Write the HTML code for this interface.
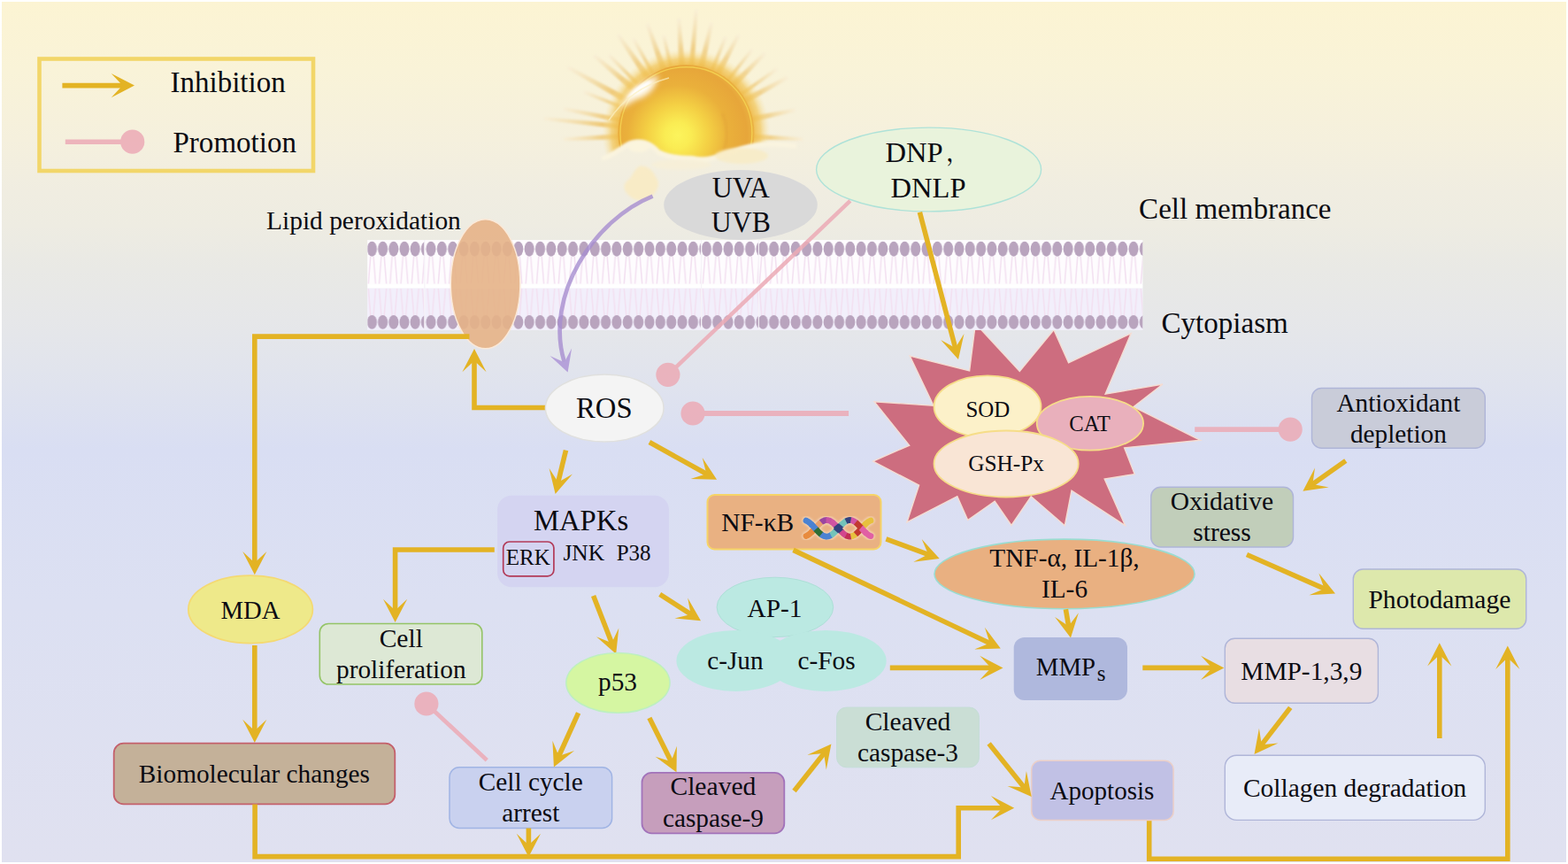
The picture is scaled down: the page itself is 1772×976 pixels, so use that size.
<!DOCTYPE html>
<html lang="en"><head><meta charset="utf-8"><title>UV photodamage signalling pathway</title>
<style>
html,body{margin:0;padding:0;background:#fff;}
body{width:1772px;height:976px;overflow:hidden;}
svg{display:block;position:absolute;left:0;top:0;}
svg text{font-family:"Liberation Serif", "Noto Serif CJK SC", serif;fill:#0b0b12;}
</style></head><body>
<svg width="1772" height="976" viewBox="0 0 1772 976">
<defs>
<linearGradient id="bg" x1="0" y1="0" x2="0" y2="1">
<stop offset="0" stop-color="#FCF4D3"/>
<stop offset="0.08" stop-color="#F9F3D8"/>
<stop offset="0.16" stop-color="#F5F0DD"/>
<stop offset="0.22" stop-color="#F0EDE1"/>
<stop offset="0.26" stop-color="#EEECE2"/>
<stop offset="0.31" stop-color="#E9E9E5"/>
<stop offset="0.37" stop-color="#E6E7E9"/>
<stop offset="0.43" stop-color="#E1E4ED"/>
<stop offset="0.52" stop-color="#D9DEF3"/>
<stop offset="0.70" stop-color="#DCE0F2"/>
<stop offset="1" stop-color="#E0E1F0"/>
</linearGradient>
<radialGradient id="sun" gradientUnits="userSpaceOnUse" cx="766" cy="153" r="92">
<stop offset="0" stop-color="#FCF45C"/>
<stop offset="0.16" stop-color="#FAEC53"/>
<stop offset="0.38" stop-color="#F4D044"/>
<stop offset="0.62" stop-color="#EAB03B"/>
<stop offset="0.85" stop-color="#E7A63A"/>
<stop offset="1" stop-color="#EDBB48"/>
</radialGradient>
<radialGradient id="glow" gradientUnits="userSpaceOnUse" cx="775.4" cy="150.3" r="100">
<stop offset="0.74" stop-color="#EEB845" stop-opacity="1"/>
<stop offset="0.84" stop-color="#F2CA66" stop-opacity="0.8"/>
<stop offset="0.95" stop-color="#F8E7B0" stop-opacity="0"/>
</radialGradient>
<filter id="b1" x="-20%" y="-20%" width="140%" height="140%"><feGaussianBlur stdDeviation="0.9"/></filter>
<filter id="b2" x="-20%" y="-20%" width="140%" height="140%"><feGaussianBlur stdDeviation="1.6"/></filter>
<filter id="b4" x="-30%" y="-30%" width="160%" height="160%"><feGaussianBlur stdDeviation="3"/></filter>
<pattern id="mp0" x="414.30" y="0" width="12.2" height="976" patternUnits="userSpaceOnUse"><rect x="0" y="271" width="12.2" height="51" fill="#FEFCFE"/><rect x="0" y="325.3" width="12.2" height="48" fill="#F2EFFB"/><rect x="0" y="321.1" width="12.2" height="4.3" fill="#FFFFFF"/><path d="M4.50,289.5 L2.10,320.5 M7.70,289.5 L10.10,320.5 M2.10,326 L4.50,356.5 M10.10,326 L7.70,356.5" stroke="#F3E0F1" stroke-width="1.5" fill="none"/><ellipse cx="6.10" cy="281.2" rx="5.55" ry="8.45" fill="#B9A4BE"/><ellipse cx="6.10" cy="363.9" rx="5.55" ry="7.95" fill="#B9A4BE"/></pattern><pattern id="mp1" x="480.82" y="0" width="12.35" height="976" patternUnits="userSpaceOnUse"><rect x="0" y="271" width="12.35" height="51" fill="#FEFCFE"/><rect x="0" y="325.3" width="12.35" height="48" fill="#F2EFFB"/><rect x="0" y="321.1" width="12.35" height="4.3" fill="#FFFFFF"/><path d="M4.57,289.5 L2.17,320.5 M7.78,289.5 L10.18,320.5 M2.17,326 L4.57,356.5 M10.18,326 L7.78,356.5" stroke="#F3E0F1" stroke-width="1.5" fill="none"/><ellipse cx="6.17" cy="281.2" rx="5.55" ry="8.45" fill="#B9A4BE"/><ellipse cx="6.17" cy="363.9" rx="5.55" ry="7.95" fill="#B9A4BE"/></pattern><pattern id="mp2" x="792.25" y="0" width="12.3" height="976" patternUnits="userSpaceOnUse"><rect x="0" y="271" width="12.3" height="51" fill="#FEFCFE"/><rect x="0" y="325.3" width="12.3" height="48" fill="#F2EFFB"/><rect x="0" y="321.1" width="12.3" height="4.3" fill="#FFFFFF"/><path d="M4.55,289.5 L2.15,320.5 M7.75,289.5 L10.15,320.5 M2.15,326 L4.55,356.5 M10.15,326 L7.75,356.5" stroke="#F3E0F1" stroke-width="1.5" fill="none"/><ellipse cx="6.15" cy="281.2" rx="5.55" ry="8.45" fill="#B9A4BE"/><ellipse cx="6.15" cy="363.9" rx="5.55" ry="7.95" fill="#B9A4BE"/></pattern><pattern id="mp3" x="856.14" y="0" width="12.315" height="976" patternUnits="userSpaceOnUse"><rect x="0" y="271" width="12.315" height="51" fill="#FEFCFE"/><rect x="0" y="325.3" width="12.315" height="48" fill="#F2EFFB"/><rect x="0" y="321.1" width="12.315" height="4.3" fill="#FFFFFF"/><path d="M4.56,289.5 L2.16,320.5 M7.76,289.5 L10.16,320.5 M2.16,326 L4.56,356.5 M10.16,326 L7.76,356.5" stroke="#F3E0F1" stroke-width="1.5" fill="none"/><ellipse cx="6.16" cy="281.2" rx="5.55" ry="8.45" fill="#B9A4BE"/><ellipse cx="6.16" cy="363.9" rx="5.55" ry="7.95" fill="#B9A4BE"/></pattern>
</defs>
<rect x="0" y="0" width="1772" height="976" fill="#fff"/>
<rect x="2" y="2" width="1768" height="972" fill="url(#bg)"/>
<g id="sun">
<mask id="sunmask" maskUnits="userSpaceOnUse" x="590" y="0" width="340" height="260"><rect x="590" y="0" width="340" height="260" fill="#fff"/><path d="M590,172 L680,177 C690,176 700,166 712,160 C724,156 736,160 744,170 C756,176 770,177 782,177 C794,180 806,178 818,172 C830,168 844,164 856,162 C870,160 890,160 930,162 L930,260 L590,260 Z" fill="#000" filter="url(#b2)"/></mask>
<g mask="url(#sunmask)">
<g filter="url(#b1)">
<linearGradient id="r0" gradientUnits="userSpaceOnUse" x1="712.4" y1="115.4" x2="641.8" y2="76.2"><stop offset="0" stop-color="#EDB748"/><stop offset="0.25" stop-color="#EFC875"/><stop offset="0.55" stop-color="#F2DCA8"/><stop offset="1" stop-color="#F8EED6" stop-opacity="0.85"/></linearGradient>
<polygon points="714.2,112.2 710.7,118.5 640.9,77.8 642.7,74.6" fill="url(#r0)"/>
<linearGradient id="r1" gradientUnits="userSpaceOnUse" x1="720.3" y1="103.9" x2="671.3" y2="62.7"><stop offset="0" stop-color="#EDB748"/><stop offset="0.25" stop-color="#EFC875"/><stop offset="0.55" stop-color="#F2DCA8"/><stop offset="1" stop-color="#F8EED6" stop-opacity="0.85"/></linearGradient>
<polygon points="722.6,101.2 718.0,106.7 670.1,64.1 672.5,61.3" fill="url(#r1)"/>
<linearGradient id="r2" gradientUnits="userSpaceOnUse" x1="734.4" y1="91.1" x2="698.4" y2="39.3"><stop offset="0" stop-color="#EDB748"/><stop offset="0.25" stop-color="#EFC875"/><stop offset="0.55" stop-color="#F2DCA8"/><stop offset="1" stop-color="#F8EED6" stop-opacity="0.85"/></linearGradient>
<polygon points="737.3,89.1 731.4,93.2 696.9,40.3 699.9,38.3" fill="url(#r2)"/>
<linearGradient id="r3" gradientUnits="userSpaceOnUse" x1="751.3" y1="82.5" x2="731.5" y2="27.0"><stop offset="0" stop-color="#EDB748"/><stop offset="0.25" stop-color="#EFC875"/><stop offset="0.55" stop-color="#F2DCA8"/><stop offset="1" stop-color="#F8EED6" stop-opacity="0.85"/></linearGradient>
<polygon points="754.6,81.3 747.9,83.7 729.8,27.6 733.2,26.4" fill="url(#r3)"/>
<linearGradient id="r4" gradientUnits="userSpaceOnUse" x1="770.8" y1="78.4" x2="767.2" y2="20.9"><stop offset="0" stop-color="#EDB748"/><stop offset="0.25" stop-color="#EFC875"/><stop offset="0.55" stop-color="#F2DCA8"/><stop offset="1" stop-color="#F8EED6" stop-opacity="0.85"/></linearGradient>
<polygon points="774.4,78.2 767.3,78.7 765.4,21.0 769.0,20.8" fill="url(#r4)"/>
<linearGradient id="r5" gradientUnits="userSpaceOnUse" x1="781.3" y1="78.5" x2="786.9" y2="11.0"><stop offset="0" stop-color="#EDB748"/><stop offset="0.25" stop-color="#EFC875"/><stop offset="0.55" stop-color="#F2DCA8"/><stop offset="1" stop-color="#F8EED6" stop-opacity="0.85"/></linearGradient>
<polygon points="784.3,78.8 778.3,78.3 785.1,10.9 788.7,11.1" fill="url(#r5)"/>
<linearGradient id="r6" gradientUnits="userSpaceOnUse" x1="791.6" y1="80.1" x2="804.1" y2="25.8"><stop offset="0" stop-color="#EDB748"/><stop offset="0.25" stop-color="#EFC875"/><stop offset="0.55" stop-color="#F2DCA8"/><stop offset="1" stop-color="#F8EED6" stop-opacity="0.85"/></linearGradient>
<polygon points="795.1,80.9 788.1,79.3 802.3,25.4 805.9,26.2" fill="url(#r6)"/>
<linearGradient id="r7" gradientUnits="userSpaceOnUse" x1="809.4" y1="86.8" x2="834.8" y2="39.3"><stop offset="0" stop-color="#EDB748"/><stop offset="0.25" stop-color="#EFC875"/><stop offset="0.55" stop-color="#F2DCA8"/><stop offset="1" stop-color="#F8EED6" stop-opacity="0.85"/></linearGradient>
<polygon points="812.5,88.5 806.2,85.1 833.2,38.5 836.4,40.1" fill="url(#r7)"/>
<linearGradient id="r8" gradientUnits="userSpaceOnUse" x1="826.0" y1="99.0" x2="864.3" y2="60.2"><stop offset="0" stop-color="#EDB748"/><stop offset="0.25" stop-color="#EFC875"/><stop offset="0.55" stop-color="#F2DCA8"/><stop offset="1" stop-color="#F8EED6" stop-opacity="0.85"/></linearGradient>
<polygon points="828.5,101.6 823.4,96.5 863.0,58.9 865.6,61.5" fill="url(#r8)"/>
<linearGradient id="r9" gradientUnits="userSpaceOnUse" x1="838.5" y1="115.6" x2="890.1" y2="87.3"><stop offset="0" stop-color="#EDB748"/><stop offset="0.25" stop-color="#EFC875"/><stop offset="0.55" stop-color="#F2DCA8"/><stop offset="1" stop-color="#F8EED6" stop-opacity="0.85"/></linearGradient>
<polygon points="840.2,118.8 836.8,112.5 889.2,85.7 891.0,88.9" fill="url(#r9)"/>
<linearGradient id="r10" gradientUnits="userSpaceOnUse" x1="845.8" y1="135.4" x2="898.8" y2="124.2"><stop offset="0" stop-color="#EDB748"/><stop offset="0.25" stop-color="#EFC875"/><stop offset="0.55" stop-color="#F2DCA8"/><stop offset="1" stop-color="#F8EED6" stop-opacity="0.85"/></linearGradient>
<polygon points="846.5,138.7 845.1,132.1 898.4,122.4 899.2,126.0" fill="url(#r10)"/>
<linearGradient id="r11" gradientUnits="userSpaceOnUse" x1="847.3" y1="154.2" x2="907.4" y2="157.4"><stop offset="0" stop-color="#EDB748"/><stop offset="0.25" stop-color="#EFC875"/><stop offset="0.55" stop-color="#F2DCA8"/><stop offset="1" stop-color="#F8EED6" stop-opacity="0.85"/></linearGradient>
<polygon points="847.1,157.2 847.5,151.2 907.5,155.6 907.3,159.2" fill="url(#r11)"/>
<linearGradient id="r12" gradientUnits="userSpaceOnUse" x1="703.8" y1="143.0" x2="614.8" y2="134.0"><stop offset="0" stop-color="#EDB748"/><stop offset="0.25" stop-color="#EFC875"/><stop offset="0.55" stop-color="#F2DCA8"/><stop offset="1" stop-color="#F8EED6" stop-opacity="0.85"/></linearGradient>
<polygon points="704.1,140.0 703.5,146.0 614.6,135.8 615.0,132.2" fill="url(#r12)"/>
<linearGradient id="r13" gradientUnits="userSpaceOnUse" x1="704.8" y1="136.4" x2="636.9" y2="123.0"><stop offset="0" stop-color="#EDB748"/><stop offset="0.25" stop-color="#EFC875"/><stop offset="0.55" stop-color="#F2DCA8"/><stop offset="1" stop-color="#F8EED6" stop-opacity="0.85"/></linearGradient>
<polygon points="705.3,133.4 704.2,139.3 636.6,124.8 637.2,121.2" fill="url(#r13)"/>
<linearGradient id="r14" gradientUnits="userSpaceOnUse" x1="703.5" y1="154.0" x2="636.9" y2="157.4"><stop offset="0" stop-color="#EDB748"/><stop offset="0.25" stop-color="#EFC875"/><stop offset="0.55" stop-color="#F2DCA8"/><stop offset="1" stop-color="#F8EED6" stop-opacity="0.85"/></linearGradient>
<polygon points="703.3,151.0 703.6,157.0 637.0,159.2 636.8,155.6" fill="url(#r14)"/>
<linearGradient id="r15" gradientUnits="userSpaceOnUse" x1="708.6" y1="123.5" x2="660.0" y2="104.0"><stop offset="0" stop-color="#EDB748"/><stop offset="0.25" stop-color="#EFC875"/><stop offset="0.55" stop-color="#F2DCA8"/><stop offset="1" stop-color="#F8EED6" stop-opacity="0.85"/></linearGradient>
<polygon points="709.3,121.6 707.8,125.3 659.3,105.7 660.7,102.3" fill="url(#r15)"/>
<linearGradient id="r16" gradientUnits="userSpaceOnUse" x1="834.3" y1="108.8" x2="878.0" y2="78.0"><stop offset="0" stop-color="#EDB748"/><stop offset="0.25" stop-color="#EFC875"/><stop offset="0.55" stop-color="#F2DCA8"/><stop offset="1" stop-color="#F8EED6" stop-opacity="0.85"/></linearGradient>
<polygon points="835.4,110.5 833.1,107.2 877.0,76.5 879.0,79.5" fill="url(#r16)"/>
<linearGradient id="r17" gradientUnits="userSpaceOnUse" x1="759.2" y1="80.1" x2="750.0" y2="40.0"><stop offset="0" stop-color="#EDB748"/><stop offset="0.25" stop-color="#EFC875"/><stop offset="0.55" stop-color="#F2DCA8"/><stop offset="1" stop-color="#F8EED6" stop-opacity="0.85"/></linearGradient>
<polygon points="761.2,79.7 757.3,80.6 748.2,40.4 751.8,39.6" fill="url(#r17)"/>
<linearGradient id="r18" gradientUnits="userSpaceOnUse" x1="802.8" y1="83.7" x2="820.0" y2="42.0"><stop offset="0" stop-color="#EDB748"/><stop offset="0.25" stop-color="#EFC875"/><stop offset="0.55" stop-color="#F2DCA8"/><stop offset="1" stop-color="#F8EED6" stop-opacity="0.85"/></linearGradient>
<polygon points="804.7,84.5 801.0,83.0 818.3,41.3 821.7,42.7" fill="url(#r18)"/>
<linearGradient id="r19" gradientUnits="userSpaceOnUse" x1="740.3" y1="87.4" x2="716.0" y2="44.0"><stop offset="0" stop-color="#EDB748"/><stop offset="0.25" stop-color="#EFC875"/><stop offset="0.55" stop-color="#F2DCA8"/><stop offset="1" stop-color="#F8EED6" stop-opacity="0.85"/></linearGradient>
<polygon points="742.0,86.5 738.5,88.4 714.4,44.9 717.6,43.1" fill="url(#r19)"/>
<linearGradient id="r20" gradientUnits="userSpaceOnUse" x1="820.1" y1="93.8" x2="850.0" y2="56.0"><stop offset="0" stop-color="#EDB748"/><stop offset="0.25" stop-color="#EFC875"/><stop offset="0.55" stop-color="#F2DCA8"/><stop offset="1" stop-color="#F8EED6" stop-opacity="0.85"/></linearGradient>
<polygon points="821.6,95.1 818.5,92.6 848.6,54.9 851.4,57.1" fill="url(#r20)"/>
<linearGradient id="r21" gradientUnits="userSpaceOnUse" x1="724.7" y1="99.1" x2="688.0" y2="62.0"><stop offset="0" stop-color="#EDB748"/><stop offset="0.25" stop-color="#EFC875"/><stop offset="0.55" stop-color="#F2DCA8"/><stop offset="1" stop-color="#F8EED6" stop-opacity="0.85"/></linearGradient>
<polygon points="726.2,97.7 723.3,100.5 686.7,63.3 689.3,60.7" fill="url(#r21)"/>
</g>
<circle cx="775.4" cy="150.3" r="100" fill="url(#glow)"/>
<circle cx="775.4" cy="150.3" r="77" fill="url(#sun)"/>
<circle cx="775.4" cy="150.3" r="74.5" fill="none" stroke="#F7D955" stroke-width="1.4" opacity="0.75"/>
<path d="M816,128 C822,140 823,156 818,170" fill="none" stroke="#DE9C36" stroke-width="2.5" opacity="0.45" filter="url(#b2)"/>
<path d="M700,124 C706,106 722,92 744,85 C742,98 734,106 726,110 C716,113 708,118 700,124 Z" fill="#FFFDF4" opacity="0.95" filter="url(#b4)"/>
<path d="M708,112 C714,100 724,94 736,90 C734,98 728,102 722,105 C716,107 712,110 708,112 Z" fill="#FFFFFF" opacity="0.9" filter="url(#b2)"/>
<path d="M688,136 C704,112 726,96 756,88" fill="none" stroke="#FBEFC0" stroke-width="1.6" opacity="0.7"/>
</g>
<g filter="url(#b2)">
<path d="M680,179 C690,178 700,168 712,162 C724,158 736,162 744,172 C756,178 770,179 782,179 C794,182 806,180 818,174 C830,170 844,166 856,164 C870,162 885,163 900,165" fill="none" stroke="#FBF4DF" stroke-width="5" opacity="0.95"/>
<ellipse cx="722" cy="166" rx="12" ry="6" fill="#FCF5DD" opacity="0.9"/>
<ellipse cx="838" cy="176" rx="30" ry="9" fill="#F8EBC2" opacity="0.75"/>
<ellipse cx="770" cy="186" rx="34" ry="6" fill="#F8EFD6" opacity="0.7"/>
<path d="M722,188 C730,186 738,192 741,200 C747,207 743,216 737,221 C731,228 718,228 711,221 C705,216 703,209 709,204 C715,200 716,192 722,188 Z" fill="#F9EBC4" opacity="0.95"/>
</g>
</g>
<polygon points="1102.4,365.5 1152.3,419.5 1191.0,372.6 1207.6,409.8 1278.2,376.6 1249.1,445.2 1314.0,434.0 1281.0,459.6 1356.5,497.3 1270.6,505.8 1282.2,535.6 1248.2,541.0 1271.5,593.5 1211.0,554.2 1203.3,593.8 1165.2,560.8 1143.0,593.5 1124.2,566.3 1093.7,587.5 1081.8,560.6 1025.0,589.9 1038.6,548.2 986.6,521.0 1027.7,503.1 988.0,453.7 1055.0,458.2 1028.2,402.0 1095.6,418.9" fill="#CD6D7F" stroke="#F5DDD2" stroke-width="1.4" stroke-linejoin="miter"/>
<rect x="415.3" y="271.2" width="876" height="101.5" fill="#F6F3F8"/>
<rect x="415.3" y="271.2" width="63.9" height="101.5" fill="url(#mp0)"/>
<rect x="480.4" y="271.2" width="311.6" height="101.5" fill="url(#mp1)"/>
<rect x="793.2" y="271.2" width="63.7" height="101.5" fill="url(#mp2)"/>
<rect x="857.9" y="271.2" width="433.4" height="101.5" fill="url(#mp3)"/>
<rect x="44.5" y="66.5" width="309.5" height="126.5" fill="none" stroke="#F2D669" stroke-width="4.6"/>
<path d="M70.4,96.6 L140.0,96.6" fill="none" stroke="#E3B324" stroke-width="5.6" stroke-linejoin="miter"/>
<polygon points="152.0,96.6 125.7,83.0 138.5,96.6 125.7,110.2" fill="#E3B324"/>
<g opacity="0.87"><line x1="73.8" y1="160.2" x2="149.7" y2="160.2" stroke="#ECACB7" stroke-width="5.4"/>
<circle cx="149.7" cy="160.2" r="13.6" fill="#ECACB7"/></g>
<text x="192.5" y="104.1" font-size="34.2" text-anchor="start" textLength="130.2" lengthAdjust="spacingAndGlyphs">Inhibition</text>
<text x="195.5" y="171.8" font-size="34.2" text-anchor="start" textLength="139.5" lengthAdjust="spacingAndGlyphs">Promotion</text>
<text x="301.1" y="259.4" font-size="30.2" text-anchor="start" textLength="219.7" lengthAdjust="spacingAndGlyphs">Lipid peroxidation</text>
<text x="1287.1" y="247.4" font-size="33.5" text-anchor="start" textLength="217.4" lengthAdjust="spacingAndGlyphs">Cell membrance</text>
<text x="1312.5" y="376.0" font-size="33.5" text-anchor="start" textLength="143.3" lengthAdjust="spacingAndGlyphs">Cytopiasm</text>
<ellipse cx="837.0" cy="231.5" rx="86.8" ry="39.4" fill="#D9D9D9"/>
<text x="837.3" y="222.7" font-size="32.8" text-anchor="middle" textLength="65.2" lengthAdjust="spacingAndGlyphs">UVA</text>
<text x="837.3" y="262.3" font-size="32.8" text-anchor="middle" textLength="67.0" lengthAdjust="spacingAndGlyphs">UVB</text>
<ellipse cx="1049.6" cy="191.5" rx="127.0" ry="47.4" fill="#E9F3DC" stroke="#AEE2D8" stroke-width="1.4"/>
<text x="1000.4" y="182.6" font-size="32.6" text-anchor="start">DNP<tspan dx="3.5" dy="-1" font-size="27">，</tspan></text>
<text x="1006.6" y="222.5" font-size="32.6" text-anchor="start" textLength="85.0" lengthAdjust="spacingAndGlyphs">DNLP</text>
<path d="M737.6,221.6 C672.5,247.5 614.5,333 637.9,409.5" fill="none" stroke="#A68DD0" stroke-opacity="0.8" stroke-width="4.7"/>
<polygon points="641.6,420.5 646.1,393.6 637.7,409.2 621.5,402.0" fill="#B5A1DA"/>
<g opacity="0.87"><line x1="960.8" y1="226.9" x2="754.9" y2="423.3" stroke="#ECACB7" stroke-width="4.5"/>
<circle cx="754.9" cy="423.3" r="13.6" fill="#ECACB7"/></g>
<path d="M1039.4,239.8 L1080.0,394.4" fill="none" stroke="#E3B324" stroke-width="5.6" stroke-linejoin="miter"/>
<polygon points="1083.0,406.0 1089.5,377.1 1079.6,392.9 1063.2,384.0" fill="#E3B324"/>
<ellipse cx="548.6" cy="320.7" rx="39.3" ry="73.0" fill="#E6B387" stroke="#FBE9D8" stroke-width="1.5" fill-opacity="0.9"/>
<path d="M530.5,380.1 L287.8,380.1 L287.8,637.3" fill="none" stroke="#E3B324" stroke-width="5.6" stroke-linejoin="miter"/>
<polygon points="287.8,649.3 301.4,623.0 287.8,635.8 274.2,623.0" fill="#E3B324"/>
<path d="M616.4,460.5 L536.0,460.5 L536.0,406.0" fill="none" stroke="#E3B324" stroke-width="5.6" stroke-linejoin="miter"/>
<polygon points="536.0,394.0 522.4,420.3 536.0,407.5 549.6,420.3" fill="#E3B324"/>
<ellipse cx="683.2" cy="461.0" rx="66.8" ry="37.9" fill="#F4F4F4" stroke="#E0E0DE" stroke-width="1.5"/>
<text x="682.8" y="472.1" font-size="32.9" text-anchor="middle" textLength="63.6" lengthAdjust="spacingAndGlyphs">ROS</text>
<g opacity="0.87"><line x1="959.1" y1="467.0" x2="783.0" y2="467.0" stroke="#ECACB7" stroke-width="5.8"/>
<circle cx="783.0" cy="467.0" r="13.6" fill="#ECACB7"/></g>
<path d="M639.5,508.7 L630.4,546.2" fill="none" stroke="#E3B324" stroke-width="5.6" stroke-linejoin="miter"/>
<polygon points="627.6,557.9 647.0,535.5 630.8,544.8 620.6,529.1" fill="#E3B324"/>
<path d="M733.9,499.5 L799.6,536.0" fill="none" stroke="#E3B324" stroke-width="5.6" stroke-linejoin="miter"/>
<polygon points="810.1,541.8 793.7,517.1 798.3,535.2 780.5,540.9" fill="#E3B324"/>
<rect x="562.1" y="559.8" width="193.8" height="103.5" rx="16" ry="16" fill="#D4D4F1"/>
<text x="602.9" y="599.1" font-size="32.9" text-anchor="start" textLength="107.3" lengthAdjust="spacingAndGlyphs">MAPKs</text>
<rect x="568.7" y="612.0" width="57.2" height="38.8" rx="7" ry="7" fill="none" stroke="#B23A58" stroke-width="1.7"/>
<text x="596.7" y="638.0" font-size="25" text-anchor="middle" textLength="50.0" lengthAdjust="spacingAndGlyphs">ERK</text>
<text x="636.4" y="633.2" font-size="25" text-anchor="start" textLength="46.7" lengthAdjust="spacingAndGlyphs">JNK</text>
<text x="696.7" y="633.2" font-size="25" text-anchor="start" textLength="38.9" lengthAdjust="spacingAndGlyphs">P38</text>
<path d="M558.8,621.0 L446.6,621.0 L446.6,691.0" fill="none" stroke="#E3B324" stroke-width="5.6" stroke-linejoin="miter"/>
<polygon points="446.6,703.0 460.2,676.7 446.6,689.5 433.0,676.7" fill="#E3B324"/>
<rect x="799.5" y="559.0" width="196.0" height="61.5" rx="8" ry="8" fill="#E9B182" stroke="#F6D467" stroke-width="2"/>
<text x="815.2" y="599.8" font-size="29.8" text-anchor="start" textLength="82.0" lengthAdjust="spacingAndGlyphs">NF-κB</text>
<g>
<g opacity="0.55" filter="url(#b1)">
<polyline points="911.0,605.5 911.6,605.2 912.2,604.9 912.8,604.6 913.4,604.2 914.0,603.8 914.6,603.3 915.3,602.8 915.9,602.3 916.5,601.7 917.1,601.1 917.7,600.5 918.3,599.9 918.9,599.2 919.5,598.6 920.1,597.9 920.7,597.2 921.3,596.6 922.0,595.9 922.6,595.2 923.2,594.6 923.8,593.9 924.4,593.3 925.0,592.6 925.6,592.1 926.2,591.5 926.8,590.9 927.4,590.4 928.0,590.0 928.6,589.5 929.2,589.1 929.9,588.8 930.5,588.4 931.1,588.2 931.7,587.9 932.3,587.8 932.9,587.6 933.5,587.5 934.1,587.5 934.7,587.5 935.3,587.6 935.9,587.7 936.5,587.9 937.2,588.1 937.8,588.3 938.4,588.6 939.0,589.0 939.6,589.3 940.2,589.8 940.8,590.2 941.4,590.7 942.0,591.2 942.6,591.8 943.2,592.4 943.9,593.0 944.5,593.6 945.1,594.3 945.7,594.9 946.3,595.6 946.9,596.3 947.5,596.9 948.1,597.6 948.7,598.3 949.3,599.0 949.9,599.6 950.5,600.2 951.1,600.9 951.8,601.5 952.4,602.0 953.0,602.6 953.6,603.1 954.2,603.6 954.8,604.0 955.4,604.4 956.0,604.8 956.6,605.1 957.2,605.4 957.8,605.6 958.5,605.8 959.1,606.0 959.7,606.1 960.3,606.1 960.9,606.1 961.5,606.0 962.1,605.9 962.7,605.8 963.3,605.6 963.9,605.3 964.5,605.0 965.1,604.7 965.8,604.3 966.4,603.9 967.0,603.5 967.6,603.0 968.2,602.4 968.8,601.9 969.4,601.3 970.0,600.7 970.6,600.1 971.2,599.4 971.8,598.8 972.4,598.1 973.0,597.4 973.7,596.8 974.3,596.1 974.9,595.4 975.5,594.7 976.1,594.1 976.7,593.5 977.3,592.8 977.9,592.2 978.5,591.7 979.1,591.1 979.7,590.6 980.4,590.1 981.0,589.6 981.6,589.2 982.2,588.9 982.8,588.5 983.4,588.2 984.0,588.0" fill="none" stroke="#FBEBD8" stroke-width="9.5" stroke-linecap="round" stroke-linejoin="round"/>
<polyline points="911.0,588.1 911.6,588.4 912.2,588.7 912.8,589.0 913.4,589.4 914.0,589.8 914.6,590.3 915.3,590.8 915.9,591.3 916.5,591.9 917.1,592.5 917.7,593.1 918.3,593.7 918.9,594.4 919.5,595.0 920.1,595.7 920.7,596.4 921.3,597.0 922.0,597.7 922.6,598.4 923.2,599.0 923.8,599.7 924.4,600.3 925.0,601.0 925.6,601.5 926.2,602.1 926.8,602.7 927.4,603.2 928.0,603.6 928.6,604.1 929.2,604.5 929.9,604.8 930.5,605.2 931.1,605.4 931.7,605.7 932.3,605.8 932.9,606.0 933.5,606.1 934.1,606.1 934.7,606.1 935.3,606.0 935.9,605.9 936.5,605.7 937.2,605.5 937.8,605.3 938.4,605.0 939.0,604.6 939.6,604.3 940.2,603.8 940.8,603.4 941.4,602.9 942.0,602.4 942.6,601.8 943.2,601.2 943.9,600.6 944.5,600.0 945.1,599.3 945.7,598.7 946.3,598.0 946.9,597.3 947.5,596.7 948.1,596.0 948.7,595.3 949.3,594.6 949.9,594.0 950.5,593.4 951.1,592.7 951.8,592.1 952.4,591.6 953.0,591.0 953.6,590.5 954.2,590.0 954.8,589.6 955.4,589.2 956.0,588.8 956.6,588.5 957.2,588.2 957.8,588.0 958.5,587.8 959.1,587.6 959.7,587.5 960.3,587.5 960.9,587.5 961.5,587.6 962.1,587.7 962.7,587.8 963.3,588.0 963.9,588.3 964.5,588.6 965.1,588.9 965.8,589.3 966.4,589.7 967.0,590.1 967.6,590.6 968.2,591.2 968.8,591.7 969.4,592.3 970.0,592.9 970.6,593.5 971.2,594.2 971.8,594.8 972.4,595.5 973.0,596.2 973.7,596.8 974.3,597.5 974.9,598.2 975.5,598.9 976.1,599.5 976.7,600.1 977.3,600.8 977.9,601.4 978.5,601.9 979.1,602.5 979.7,603.0 980.4,603.5 981.0,604.0 981.6,604.4 982.2,604.7 982.8,605.1 983.4,605.4 984.0,605.6" fill="none" stroke="#FBEBD8" stroke-width="9.5" stroke-linecap="round" stroke-linejoin="round"/>
</g>
<polyline points="911.0,605.5 911.6,605.2 912.2,604.9 912.8,604.6 913.4,604.2 914.0,603.8 914.6,603.3 915.3,602.8 915.9,602.3 916.5,601.7 917.1,601.1" fill="none" stroke="#E88B3E" stroke-width="6.8" stroke-linecap="round" stroke-linejoin="round"/>
<polyline points="916.5,601.7 917.1,601.1 917.7,600.5 918.3,599.9 918.9,599.2 919.5,598.6 920.1,597.9 920.7,597.2 921.3,596.6 922.0,595.9 922.6,595.2" fill="none" stroke="#E88B3E" stroke-width="6.8" stroke-linecap="butt" stroke-linejoin="round"/>
<polyline points="922.0,595.9 922.6,595.2 923.2,594.6 923.8,593.9 924.4,593.3 925.0,592.6 925.6,592.1 926.2,591.5 926.8,590.9 927.4,590.4 928.0,590.0 928.6,589.5" fill="none" stroke="#E9A16E" stroke-width="6.8" stroke-linecap="butt" stroke-linejoin="round"/>
<polyline points="928.0,590.0 928.6,589.5 929.2,589.1 929.9,588.8 930.5,588.4 931.1,588.2 931.7,587.9 932.3,587.8 932.9,587.6 933.5,587.5 934.1,587.5" fill="none" stroke="#9A45A0" stroke-width="6.8" stroke-linecap="butt" stroke-linejoin="round"/>
<polyline points="933.5,587.5 934.1,587.5 934.7,587.5 935.3,587.6 935.9,587.7 936.5,587.9 937.2,588.1 937.8,588.3 938.4,588.6 939.0,589.0 939.6,589.3" fill="none" stroke="#C651A5" stroke-width="6.8" stroke-linecap="butt" stroke-linejoin="round"/>
<polyline points="939.0,589.0 939.6,589.3 940.2,589.8 940.8,590.2 941.4,590.7 942.0,591.2 942.6,591.8 943.2,592.4 943.9,593.0 944.5,593.6 945.1,594.3" fill="none" stroke="#D154A2" stroke-width="6.8" stroke-linecap="butt" stroke-linejoin="round"/>
<polyline points="944.5,593.6 945.1,594.3 945.7,594.9 946.3,595.6 946.9,596.3 947.5,596.9 948.1,597.6 948.7,598.3 949.3,599.0 949.9,599.6 950.5,600.2 951.1,600.9" fill="none" stroke="#33427E" stroke-width="6.8" stroke-linecap="butt" stroke-linejoin="round"/>
<polyline points="950.5,600.2 951.1,600.9 951.8,601.5 952.4,602.0 953.0,602.6 953.6,603.1 954.2,603.6 954.8,604.0 955.4,604.4 956.0,604.8 956.6,605.1" fill="none" stroke="#D2468E" stroke-width="6.8" stroke-linecap="butt" stroke-linejoin="round"/>
<polyline points="956.0,604.8 956.6,605.1 957.2,605.4 957.8,605.6 958.5,605.8 959.1,606.0 959.7,606.1 960.3,606.1 960.9,606.1 961.5,606.0 962.1,605.9" fill="none" stroke="#C22F55" stroke-width="6.8" stroke-linecap="butt" stroke-linejoin="round"/>
<polyline points="961.5,606.0 962.1,605.9 962.7,605.8 963.3,605.6 963.9,605.3 964.5,605.0 965.1,604.7 965.8,604.3 966.4,603.9 967.0,603.5 967.6,603.0" fill="none" stroke="#E7C13E" stroke-width="6.8" stroke-linecap="butt" stroke-linejoin="round"/>
<polyline points="967.0,603.5 967.6,603.0 968.2,602.4 968.8,601.9 969.4,601.3 970.0,600.7 970.6,600.1 971.2,599.4 971.8,598.8 972.4,598.1 973.0,597.4 973.7,596.8" fill="none" stroke="#C23A30" stroke-width="6.8" stroke-linecap="butt" stroke-linejoin="round"/>
<polyline points="973.0,597.4 973.7,596.8 974.3,596.1 974.9,595.4 975.5,594.7 976.1,594.1 976.7,593.5 977.3,592.8 977.9,592.2 978.5,591.7 979.1,591.1" fill="none" stroke="#E7C13E" stroke-width="6.8" stroke-linecap="butt" stroke-linejoin="round"/>
<polyline points="978.5,591.7 979.1,591.1 979.7,590.6 980.4,590.1 981.0,589.6 981.6,589.2 982.2,588.9 982.8,588.5 983.4,588.2 984.0,588.0" fill="none" stroke="#E7C13E" stroke-width="6.8" stroke-linecap="round" stroke-linejoin="round"/>
<polyline points="911.0,588.1 911.6,588.4 912.2,588.7 912.8,589.0 913.4,589.4 914.0,589.8 914.6,590.3 915.3,590.8 915.9,591.3 916.5,591.9 917.1,592.5" fill="none" stroke="#4B82D2" stroke-width="6.8" stroke-linecap="round" stroke-linejoin="round"/>
<polyline points="916.5,591.9 917.1,592.5 917.7,593.1 918.3,593.7 918.9,594.4 919.5,595.0 920.1,595.7 920.7,596.4 921.3,597.0 922.0,597.7 922.6,598.4" fill="none" stroke="#4B82D2" stroke-width="6.8" stroke-linecap="butt" stroke-linejoin="round"/>
<polyline points="922.0,597.7 922.6,598.4 923.2,599.0 923.8,599.7 924.4,600.3 925.0,601.0 925.6,601.5 926.2,602.1 926.8,602.7 927.4,603.2 928.0,603.6 928.6,604.1" fill="none" stroke="#2F6E35" stroke-width="6.8" stroke-linecap="butt" stroke-linejoin="round"/>
<polyline points="928.0,603.6 928.6,604.1 929.2,604.5 929.9,604.8 930.5,605.2 931.1,605.4 931.7,605.7 932.3,605.8 932.9,606.0 933.5,606.1 934.1,606.1" fill="none" stroke="#4B82D2" stroke-width="6.8" stroke-linecap="butt" stroke-linejoin="round"/>
<polyline points="933.5,606.1 934.1,606.1 934.7,606.1 935.3,606.0 935.9,605.9 936.5,605.7 937.2,605.5 937.8,605.3 938.4,605.0 939.0,604.6 939.6,604.3" fill="none" stroke="#4B82D2" stroke-width="6.8" stroke-linecap="butt" stroke-linejoin="round"/>
<polyline points="939.0,604.6 939.6,604.3 940.2,603.8 940.8,603.4 941.4,602.9 942.0,602.4 942.6,601.8 943.2,601.2 943.9,600.6 944.5,600.0 945.1,599.3" fill="none" stroke="#73C3BA" stroke-width="6.8" stroke-linecap="butt" stroke-linejoin="round"/>
<polyline points="944.5,600.0 945.1,599.3 945.7,598.7 946.3,598.0 946.9,597.3 947.5,596.7 948.1,596.0 948.7,595.3 949.3,594.6 949.9,594.0 950.5,593.4 951.1,592.7" fill="none" stroke="#33427E" stroke-width="6.8" stroke-linecap="butt" stroke-linejoin="round"/>
<polyline points="950.5,593.4 951.1,592.7 951.8,592.1 952.4,591.6 953.0,591.0 953.6,590.5 954.2,590.0 954.8,589.6 955.4,589.2 956.0,588.8 956.6,588.5" fill="none" stroke="#73C3BA" stroke-width="6.8" stroke-linecap="butt" stroke-linejoin="round"/>
<polyline points="956.0,588.8 956.6,588.5 957.2,588.2 957.8,588.0 958.5,587.8 959.1,587.6 959.7,587.5 960.3,587.5 960.9,587.5 961.5,587.6 962.1,587.7" fill="none" stroke="#33427E" stroke-width="6.8" stroke-linecap="butt" stroke-linejoin="round"/>
<polyline points="961.5,587.6 962.1,587.7 962.7,587.8 963.3,588.0 963.9,588.3 964.5,588.6 965.1,588.9 965.8,589.3 966.4,589.7 967.0,590.1 967.6,590.6" fill="none" stroke="#D154A2" stroke-width="6.8" stroke-linecap="butt" stroke-linejoin="round"/>
<polyline points="967.0,590.1 967.6,590.6 968.2,591.2 968.8,591.7 969.4,592.3 970.0,592.9 970.6,593.5 971.2,594.2 971.8,594.8 972.4,595.5 973.0,596.2 973.7,596.8" fill="none" stroke="#C23A30" stroke-width="6.8" stroke-linecap="butt" stroke-linejoin="round"/>
<polyline points="973.0,596.2 973.7,596.8 974.3,597.5 974.9,598.2 975.5,598.9 976.1,599.5 976.7,600.1 977.3,600.8 977.9,601.4 978.5,601.9 979.1,602.5" fill="none" stroke="#E160A4" stroke-width="6.8" stroke-linecap="butt" stroke-linejoin="round"/>
<polyline points="978.5,601.9 979.1,602.5 979.7,603.0 980.4,603.5 981.0,604.0 981.6,604.4 982.2,604.7 982.8,605.1 983.4,605.4 984.0,605.6" fill="none" stroke="#E160A4" stroke-width="6.8" stroke-linecap="round" stroke-linejoin="round"/>
</g>
<path d="M1001.4,608.9 L1050.4,626.8" fill="none" stroke="#E3B324" stroke-width="5.6" stroke-linejoin="miter"/>
<polygon points="1061.7,630.9 1041.7,609.1 1049.0,626.3 1032.3,634.7" fill="#E3B324"/>
<path d="M896.5,621.4 L1120.0,727.3" fill="none" stroke="#E3B324" stroke-width="5.6" stroke-linejoin="miter"/>
<polygon points="1130.8,732.4 1112.9,708.8 1118.6,726.6 1101.2,733.4" fill="#E3B324"/>
<ellipse cx="1116.0" cy="459.3" rx="60.5" ry="34.9" fill="#FCF1C9" stroke="#F6DD88" stroke-width="1.8"/>
<ellipse cx="1231.9" cy="478.2" rx="60.2" ry="30.4" fill="#E9B0BC" stroke="#F6DD88" stroke-width="1.8"/>
<ellipse cx="1137.1" cy="524.0" rx="81.6" ry="37.5" fill="#F9E5D5" stroke="#F6DD88" stroke-width="1.8"/>
<text x="1116.3" y="470.7" font-size="25" text-anchor="middle" textLength="49.8" lengthAdjust="spacingAndGlyphs">SOD</text>
<text x="1231.5" y="486.7" font-size="25" text-anchor="middle" textLength="46.5" lengthAdjust="spacingAndGlyphs">CAT</text>
<text x="1137.1" y="531.6" font-size="25" text-anchor="middle" textLength="85.8" lengthAdjust="spacingAndGlyphs">GSH-Px</text>
<g opacity="0.87"><line x1="1350.2" y1="485.1" x2="1458.2" y2="485.1" stroke="#ECACB7" stroke-width="5.8"/>
<circle cx="1458.2" cy="485.1" r="13.6" fill="#ECACB7"/></g>
<rect x="1482.5" y="438.5" width="195.8" height="67.8" rx="11" ry="11" fill="#C9CCD9" stroke="#AFB5D8" stroke-width="1.4"/>
<text x="1580.4" y="465.0" font-size="29.3" text-anchor="middle" textLength="139.9" lengthAdjust="spacingAndGlyphs">Antioxidant</text>
<text x="1580.4" y="499.5" font-size="29.3" text-anchor="middle">depletion</text>
<path d="M1520.8,520.5 L1482.2,547.8" fill="none" stroke="#E3B324" stroke-width="5.6" stroke-linejoin="miter"/>
<polygon points="1472.4,554.7 1501.7,550.6 1483.4,546.9 1486.0,528.4" fill="#E3B324"/>
<rect x="1300.7" y="550.3" width="160.8" height="67.7" rx="11" ry="11" fill="#C1CEBA" stroke="#AFB5D8" stroke-width="1.4"/>
<text x="1381.0" y="576.4" font-size="29.5" text-anchor="middle">Oxidative</text>
<text x="1381.0" y="611.0" font-size="29.5" text-anchor="middle">stress</text>
<path d="M1409.0,626.5 L1498.0,665.6" fill="none" stroke="#E3B324" stroke-width="5.6" stroke-linejoin="miter"/>
<polygon points="1509.0,670.4 1490.4,647.4 1496.6,665.0 1479.5,672.3" fill="#E3B324"/>
<rect x="1529.3" y="643.0" width="195.4" height="67.3" rx="11" ry="11" fill="#DDE8AC" stroke="#AFB5D8" stroke-width="1.4"/>
<text x="1626.9" y="686.6" font-size="29.9" text-anchor="middle" textLength="161.0" lengthAdjust="spacingAndGlyphs">Photodamage</text>
<ellipse cx="1203.0" cy="648.4" rx="147.0" ry="39.3" fill="#E9B081" stroke="#9ADCD0" stroke-width="1.6"/>
<text x="1203.0" y="640.0" font-size="29.3" text-anchor="middle">TNF-α, IL-1β,</text>
<text x="1203.0" y="675.2" font-size="29.3" text-anchor="middle">IL-6</text>
<path d="M1204.4,688.3 L1207.9,708.7" fill="none" stroke="#E3B324" stroke-width="5.6" stroke-linejoin="miter"/>
<polygon points="1210.0,720.5 1218.9,692.3 1207.7,707.2 1192.1,696.9" fill="#E3B324"/>
<rect x="1145.7" y="720.1" width="128.3" height="70.8" rx="12" ry="12" fill="#AFB8DD"/>
<text x="1170.8" y="763.2" font-size="29.6" text-anchor="start"><tspan textLength="67.2" lengthAdjust="spacingAndGlyphs">MMP</tspan><tspan x="1239.7" dy="5.9" font-size="25">s</tspan></text>
<path d="M1291.3,754.4 L1371.3,754.4" fill="none" stroke="#E3B324" stroke-width="5.6" stroke-linejoin="miter"/>
<polygon points="1383.3,754.4 1357.0,740.8 1369.8,754.4 1357.0,768.0" fill="#E3B324"/>
<rect x="1384.3" y="721.2" width="173.1" height="73.1" rx="11" ry="11" fill="#E8DEE3" stroke="#AFB5D8" stroke-width="1.4"/>
<text x="1402.3" y="767.9" font-size="29.6" text-anchor="start" textLength="137.1" lengthAdjust="spacingAndGlyphs">MMP-1,3,9</text>
<path d="M1458.2,799.4 L1424.9,842.4" fill="none" stroke="#E3B324" stroke-width="5.6" stroke-linejoin="miter"/>
<polygon points="1417.5,851.9 1444.4,839.4 1425.8,841.2 1422.9,822.8" fill="#E3B324"/>
<rect x="1384.3" y="853.3" width="294.0" height="73.1" rx="13" ry="13" fill="#E8ECF8" stroke="#AFB5D8" stroke-width="1.4"/>
<text x="1405.0" y="900.2" font-size="29.6" text-anchor="start" textLength="252.3" lengthAdjust="spacingAndGlyphs">Collagen degradation</text>
<path d="M1626.8,834.0 L1626.8,738.3" fill="none" stroke="#E3B324" stroke-width="5.6" stroke-linejoin="miter"/>
<polygon points="1626.8,726.3 1613.2,752.6 1626.8,739.8 1640.4,752.6" fill="#E3B324"/>
<path d="M1298.7,926.4 L1298.7,970.2 L1703.8,970.2 L1703.8,741.6" fill="none" stroke="#E3B324" stroke-width="5.6" stroke-linejoin="miter"/>
<polygon points="1703.8,729.6 1690.2,755.9 1703.8,743.1 1717.4,755.9" fill="#E3B324"/>
<rect x="1165.7" y="859.3" width="160.4" height="67.1" rx="10" ry="10" fill="#C1C1E5" stroke="#EBCFC8" stroke-width="1.5"/>
<text x="1186.5" y="903.0" font-size="29.6" text-anchor="start" textLength="117.9" lengthAdjust="spacingAndGlyphs">Apoptosis</text>
<ellipse cx="283.1" cy="688.4" rx="70.3" ry="38.3" fill="#EEE98A" stroke="#F4D972" stroke-width="1.7"/>
<text x="283.1" y="698.5" font-size="29.3" text-anchor="middle" textLength="67.0" lengthAdjust="spacingAndGlyphs">MDA</text>
<path d="M287.8,729.0 L287.8,827.0" fill="none" stroke="#E3B324" stroke-width="5.6" stroke-linejoin="miter"/>
<polygon points="287.8,839.0 301.4,812.7 287.8,825.5 274.2,812.7" fill="#E3B324"/>
<rect x="128.7" y="839.7" width="317.6" height="68.7" rx="11" ry="11" fill="#C4B199" stroke="#C4606C" stroke-width="1.8"/>
<text x="156.8" y="884.0" font-size="29.8" text-anchor="start" textLength="261.2" lengthAdjust="spacingAndGlyphs">Biomolecular changes</text>
<path d="M288.1,908.4 L288.1,967.6 L1083.2,967.6 L1083.2,912.7 L1134.2,912.7" fill="none" stroke="#E3B324" stroke-width="5.6" stroke-linejoin="miter"/>
<polygon points="1146.2,912.7 1119.9,899.1 1132.7,912.7 1119.9,926.3" fill="#E3B324"/>
<rect x="361.3" y="704.5" width="183.5" height="68.5" rx="10" ry="10" fill="#DDE8D5" stroke="#94C466" stroke-width="1.6"/>
<text x="453.3" y="730.9" font-size="29.6" text-anchor="middle">Cell</text>
<text x="453.3" y="766.0" font-size="29.6" text-anchor="middle" textLength="146.6" lengthAdjust="spacingAndGlyphs">proliferation</text>
<g opacity="0.87"><line x1="550.3" y1="858.7" x2="481.9" y2="795.0" stroke="#ECACB7" stroke-width="4.7"/>
<circle cx="481.9" cy="795.0" r="13.6" fill="#ECACB7"/></g>
<rect x="508.0" y="866.8" width="183.6" height="68.7" rx="11" ry="11" fill="#C9D1EF" stroke="#A0B4E4" stroke-width="1.5"/>
<text x="599.8" y="893.2" font-size="29.3" text-anchor="middle">Cell cycle</text>
<text x="599.8" y="928.3" font-size="29.3" text-anchor="middle">arrest</text>
<path d="M597.4,935.5 L597.4,956.0" fill="none" stroke="#E3B324" stroke-width="5.6" stroke-linejoin="miter"/>
<polygon points="597.4,968.0 611.0,941.7 597.4,954.5 583.8,941.7" fill="#E3B324"/>
<path d="M670.6,673.0 L691.8,727.6" fill="none" stroke="#E3B324" stroke-width="5.6" stroke-linejoin="miter"/>
<polygon points="696.2,738.8 699.3,709.4 691.3,726.2 674.0,719.2" fill="#E3B324"/>
<path d="M745.7,671.4 L781.9,694.7" fill="none" stroke="#E3B324" stroke-width="5.6" stroke-linejoin="miter"/>
<polygon points="792.0,701.2 777.2,675.5 780.6,693.9 762.5,698.4" fill="#E3B324"/>
<ellipse cx="875.9" cy="685.9" rx="65.8" ry="33.7" fill="#BBE9E2" stroke="#ADDFD7" stroke-width="1"/>
<ellipse cx="933.2" cy="746.4" rx="68.5" ry="34.5" fill="#BBE9E2"/>
<ellipse cx="831.3" cy="746.4" rx="66.9" ry="34.5" fill="#BBE9E2"/>
<text x="875.5" y="696.8" font-size="29.3" text-anchor="middle">AP-1</text>
<text x="799.3" y="756.0" font-size="29.3" text-anchor="start" textLength="63.3" lengthAdjust="spacingAndGlyphs">c-Jun</text>
<text x="901.5" y="756.0" font-size="29.3" text-anchor="start" textLength="65.1" lengthAdjust="spacingAndGlyphs">c-Fos</text>
<path d="M1005.8,754.4 L1121.5,754.4" fill="none" stroke="#E3B324" stroke-width="5.6" stroke-linejoin="miter"/>
<polygon points="1133.5,754.4 1107.2,740.8 1120.0,754.4 1107.2,768.0" fill="#E3B324"/>
<ellipse cx="698.4" cy="771.3" rx="58.6" ry="33.9" fill="#D5F6A2" stroke="#BDEFC0" stroke-width="1.5"/>
<text x="698.0" y="779.8" font-size="29.3" text-anchor="middle">p53</text>
<path d="M653.6,805.3 L630.9,855.5" fill="none" stroke="#E3B324" stroke-width="5.6" stroke-linejoin="miter"/>
<polygon points="625.9,866.4 649.1,848.1 631.5,854.1 624.4,836.8" fill="#E3B324"/>
<path d="M733.9,810.9 L759.1,861.6" fill="none" stroke="#E3B324" stroke-width="5.6" stroke-linejoin="miter"/>
<polygon points="764.5,872.3 764.9,842.7 758.5,860.2 740.6,854.8" fill="#E3B324"/>
<rect x="725.5" y="872.9" width="160.8" height="68.4" rx="11" ry="11" fill="#C69EBC" stroke="#A273BA" stroke-width="1.8"/>
<text x="805.9" y="898.2" font-size="29.6" text-anchor="middle">Cleaved</text>
<text x="805.9" y="933.8" font-size="29.3" text-anchor="middle">caspase-9</text>
<path d="M897.5,893.5 L932.0,849.9" fill="none" stroke="#E3B324" stroke-width="5.6" stroke-linejoin="miter"/>
<polygon points="939.4,840.5 912.4,852.7 931.0,851.1 933.8,869.6" fill="#E3B324"/>
<rect x="945.6" y="799.1" width="160.8" height="67.7" rx="11" ry="11" fill="#CADED5" stroke="#C4DDD6" stroke-width="1"/>
<text x="1026.0" y="824.9" font-size="29.5" text-anchor="middle">Cleaved</text>
<text x="1026.0" y="860.0" font-size="29.3" text-anchor="middle">caspase-3</text>
<path d="M1117.6,840.0 L1158.2,890.6" fill="none" stroke="#E3B324" stroke-width="5.6" stroke-linejoin="miter"/>
<polygon points="1165.7,900.0 1159.9,871.0 1157.3,889.5 1138.6,888.0" fill="#E3B324"/>
</svg>
</body></html>
